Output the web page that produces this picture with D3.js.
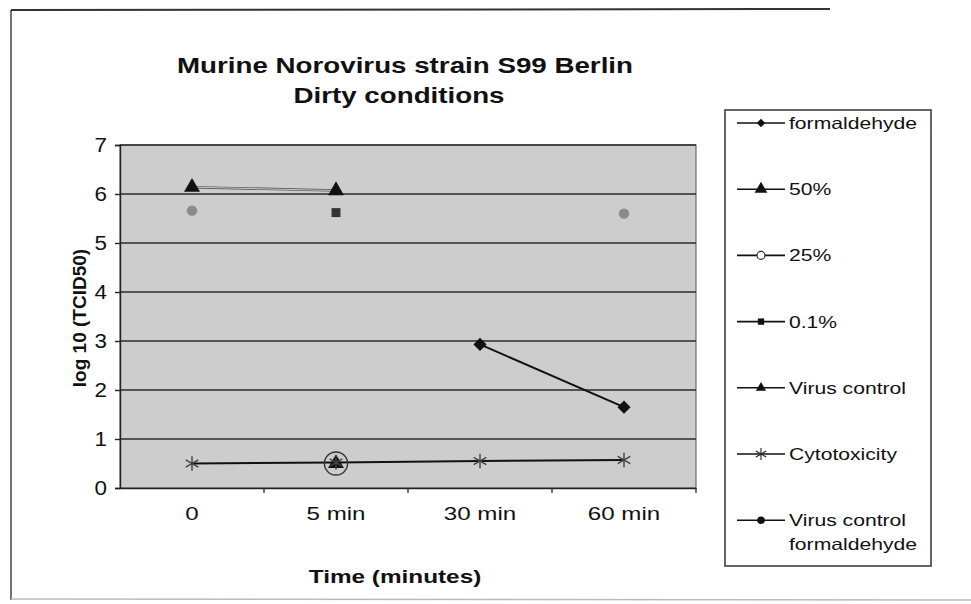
<!DOCTYPE html>
<html>
<head>
<meta charset="utf-8">
<script src="https://cdn.jsdelivr.net/npm/d3@7"></script>
<style>
  body { margin: 0; background: #fff; }
  text { font-family: "Liberation Sans", Arial, sans-serif; fill: #111; }
</style>
</head>
<body>
<div id="chart"></div>
<script>
// data
const categories = ["0", "5 min", "30 min", "60 min"];
const yTicks = [0, 1, 2, 3, 4, 5, 6, 7];
const formaldehyde = [null, null, 2.93, 1.65];
const pct50 = [null, 0.5, null, null];
const pct25 = [null, 0.5, null, null];
const pct01 = [null, 5.62, null, null];
const virusControl = [6.14, 6.07, null, null];
const cytotoxicity = [0.5, 0.52, 0.55, 0.57];
const virusControlFormaldehyde = [5.66, null, null, 5.6];
const seriesNames = ["formaldehyde", "50%", "25%", "0.1%", "Virus control", "Cytotoxicity", "Virus control formaldehyde"];

const width = 971, height = 604;
const plot = {left: 120, right: 696, top: 145, bottom: 488};

const svg = d3.select("#chart").append("svg")
    .attr("width", width)
    .attr("height", height);

// the scanned text is wider than plain Arial, so stretch it sideways
const stretch = (sel, k) => sel.each(function() {
    const n = this.getComputedTextLength();
    d3.select(this).attr("textLength", n * k).attr("lengthAdjust", "spacingAndGlyphs");
});

// scan frame
svg.append("line").attr("x1", 11).attr("x2", 11).attr("y1", 10).attr("y2", 600)
    .attr("stroke", "#444").attr("stroke-width", 1.5);
svg.append("line").attr("x1", 11).attr("x2", 830).attr("y1", 10).attr("y2", 9)
    .attr("stroke", "#333").attr("stroke-width", 2);
svg.append("line").attr("x1", 11).attr("x2", 971).attr("y1", 599).attr("y2", 600)
    .attr("stroke", "#bbb").attr("stroke-width", 1.5);

const x = d3.scaleBand().domain(categories).range([plot.left, plot.right]);
const y = d3.scaleLinear().domain([0, 7]).range([plot.bottom, plot.top]);

// plot area
svg.append("rect")
    .attr("x", plot.left).attr("y", plot.top)
    .attr("width", plot.right - plot.left).attr("height", plot.bottom - plot.top)
    .attr("fill", "#cdcdcd").attr("stroke", "#555").attr("stroke-width", 1);

// gridlines
svg.append("g").selectAll("line").data(yTicks.filter(d => d > 0)).enter()
    .append("line")
    .attr("x1", plot.left).attr("x2", plot.right)
    .attr("y1", d => y(d)).attr("y2", d => y(d))
    .attr("stroke", "#2a2a2a").attr("stroke-width", 1.4);

// axes
const yAxis = svg.append("g")
    .attr("transform", `translate(${plot.left},0)`)
    .call(d3.axisLeft(y).tickValues(yTicks).tickSize(5).tickPadding(8).tickFormat(d3.format("d")));
yAxis.selectAll("text").style("font-size", "20px").call(stretch, 1.12);

const xAxis = svg.append("g")
    .attr("transform", `translate(0,${plot.bottom})`)
    .call(d3.axisBottom(x).tickSize(0).tickPadding(19));
xAxis.selectAll("text").style("font-size", "19px").call(stretch, 1.27);
// tick marks sit between categories
svg.append("g").selectAll("line").data(categories).enter()
    .append("line")
    .attr("x1", d => x(d) + x.bandwidth())
    .attr("x2", d => x(d) + x.bandwidth())
    .attr("y1", plot.bottom).attr("y2", plot.bottom + 5)
    .attr("stroke", "#222").attr("stroke-width", 1.2);
[yAxis, xAxis].forEach(a => a.selectAll("path, line").attr("stroke", "#222").attr("stroke-width", 1.4));
xAxis.select(".domain").attr("stroke-width", 1.6);

// marker shapes
const sym = (type, size) => d3.symbol().type(type).size(size)();

const series = [
    {name: seriesNames[0], values: formaldehyde, line: "#111", marker: sym(d3.symbolDiamond2, 110), fill: "#111", stroke: "none",
        lm: sym(d3.symbolDiamond2, 45)},
    {name: seriesNames[1], values: pct50, line: "#111", marker: sym(d3.symbolTriangle, 110), fill: "#111", stroke: "none",
        lm: sym(d3.symbolTriangle, 70)},
    {name: seriesNames[2], values: pct25, line: "#333", marker: sym(d3.symbolCircle, 420), fill: "none", stroke: "#333",
        lm: sym(d3.symbolCircle, 50)},
    {name: seriesNames[3], values: pct01, line: "#222", marker: sym(d3.symbolSquare, 80), fill: "#333", stroke: "none",
        lm: sym(d3.symbolSquare, 40)},
    {name: seriesNames[4], values: virusControl, line: "#555", marker: sym(d3.symbolTriangle, 110), fill: "#111", stroke: "none",
        lm: sym(d3.symbolTriangle, 45)},
    {name: seriesNames[5], values: cytotoxicity, line: "#111", marker: sym(d3.symbolAsterisk, 150), fill: "none", stroke: "#444",
        lm: sym(d3.symbolAsterisk, 100)},
    {name: seriesNames[6], values: virusControlFormaldehyde, line: "#111", marker: sym(d3.symbolCircle, 85), fill: "#8a8a8a", stroke: "none",
        lm: sym(d3.symbolCircle, 45), legendFill: "#111"}
];

const line = d3.line()
    .defined(d => d.v !== null)
    .x(d => x(d.c) + x.bandwidth() / 2)
    .y(d => y(d.v));

const marksRef = svg.append("g");
series.forEach(s => {
    const pts = s.values.map((v, i) => ({c: categories[i], v: v}));
    marksRef.append("path")
        .datum(pts)
        .attr("d", line)
        .attr("fill", "none")
        .attr("stroke", s.line)
        .attr("stroke-width", s.name === "Virus control" ? 2.5 : 2);
    if (s.name === "Virus control") {
        marksRef.append("path").datum(pts).attr("d", line)
            .attr("fill", "none").attr("stroke", "#e8e8e8").attr("stroke-width", 0.8);
    }
});
series.forEach(s => {
    const pts = s.values.map((v, i) => ({c: categories[i], v: v})).filter(d => d.v !== null);
    marksRef.append("g").selectAll("path").data(pts).enter()
        .append("path")
        .attr("d", s.marker)
        .attr("transform", d => `translate(${x(d.c) + x.bandwidth() / 2},${y(d.v)})`)
        .attr("fill", s.fill)
        .attr("stroke", s.stroke)
        .attr("stroke-width", s.stroke === "none" ? 0 : 1.4);
});

// titles
const title = svg.append("text")
    .attr("text-anchor", "middle")
    .style("font-size", "22px").style("font-weight", "bold");
title.append("tspan").attr("x", 405).attr("y", 73).text("Murine Norovirus strain S99 Berlin");
title.append("tspan").attr("x", 399).attr("y", 103).text("Dirty conditions");
title.selectAll("tspan").call(stretch, 1.26);

svg.append("text")
    .attr("transform", `translate(86,318) rotate(-90)`)
    .attr("text-anchor", "middle")
    .style("font-size", "19px").style("font-weight", "bold")
    .text("log 10 (TCID50)");

svg.append("text")
    .attr("x", 395).attr("y", 583)
    .attr("text-anchor", "middle")
    .style("font-size", "19px").style("font-weight", "bold")
    .text("Time (minutes)")
    .call(stretch, 1.28);

// legend
const legend = {x: 725, y: 110, w: 206, h: 456, first: 123, step: 66.2};
svg.append("rect")
    .attr("x", legend.x).attr("y", legend.y)
    .attr("width", legend.w).attr("height", legend.h)
    .attr("fill", "#fff").attr("stroke", "#333").attr("stroke-width", 1.5);

const items = svg.append("g").selectAll("g").data(series).enter()
    .append("g")
    .attr("transform", (d, i) => `translate(${legend.x},${legend.first + i * legend.step})`);
items.append("line")
    .attr("x1", 12).attr("x2", 60).attr("y1", 0).attr("y2", 0)
    .attr("stroke", "#111").attr("stroke-width", 1.6);
items.append("path")
    .attr("d", d => d.lm)
    .attr("transform", "translate(36,0)")
    .attr("fill", d => d.legendFill || (d.fill === "none" ? "#fff" : "#111"))
    .attr("stroke", d => d.stroke === "none" ? "none" : "#222")
    .attr("stroke-width", 1.1);
items.append("text")
    .attr("y", 6)
    .style("font-size", "16.5px")
    .each(function(d) {
        const t = d3.select(this);
        if (d.name === "Virus control formaldehyde") {
            t.append("tspan").attr("x", 64).attr("y", 6).text("Virus control");
            t.append("tspan").attr("x", 64).attr("y", 30).text("formaldehyde");
        } else {
            t.append("tspan").attr("x", 64).attr("y", 6).text(d.name);
        }
    });
items.selectAll("tspan").call(stretch, 1.28);
</script>
</body>
</html>
